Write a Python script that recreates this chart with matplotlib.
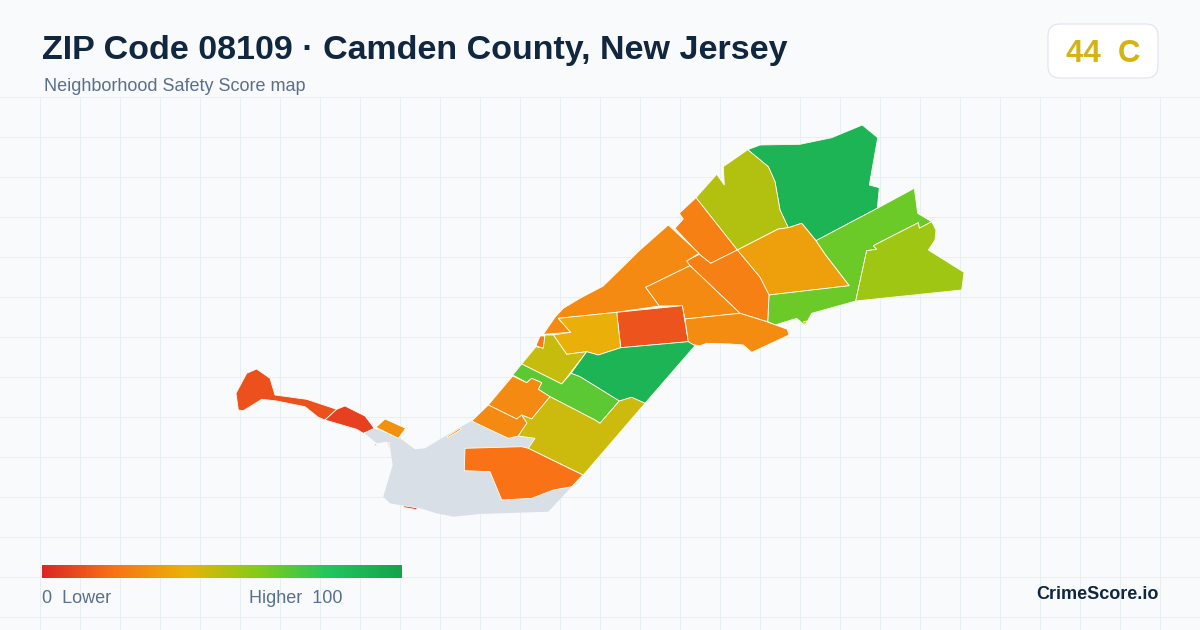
import matplotlib
matplotlib.use("Agg")
import matplotlib.pyplot as plt
import numpy as np
from matplotlib.colors import LinearSegmentedColormap, Normalize
from matplotlib.patches import FancyBboxPatch, Polygon

# neighborhood outlines (map units = image pixels)
gray_area = [(471.7, 421), (508.3, 438.3), (518.3, 436), (535, 438.3), (528.3, 448.3), (582.7, 475), (571.7, 486.7),
             (548.3, 511.7), (480, 514), (453.3, 516.7), (436.7, 513.3), (420, 508.3), (403.3, 505.7), (390, 503.3),
             (383.3, 496.7), (392.7, 465), (390, 446.7), (386.7, 441.7), (376.7, 443.3), (366.7, 435), (363.3, 431.7),
             (374, 428.3), (400, 438.3), (415, 449.3), (425, 448.3), (460, 427.3)]

north_green = [(747.7, 149.7), (760, 145), (800, 144.3), (831.7, 137.7), (862.3, 125), (877.7, 137.7), (869.3, 185),
               (879.3, 187.7), (877.3, 208.3), (816, 240.7), (801.7, 223.3), (788.3, 227.7), (780, 210), (775, 181.7),
               (768.3, 166.7)]
north_olive = [(747.7, 149.7), (768.3, 166.7), (775, 181.7), (780, 210), (788.3, 227.7), (778.3, 229), (737.3, 250),
               (696, 197.7), (716.7, 174.3), (724.3, 185), (723.3, 166.7)]
amber = [(737.3, 250), (778.3, 229), (788.3, 227.7), (801.7, 223.3), (816, 240.7), (825.7, 255), (849.3, 285.7),
         (769, 295), (760, 277.3)]
east_green = [(816, 240.7), (877.3, 208.3), (914.3, 188.3), (917.7, 213.3), (931.7, 221.7), (919.3, 228.3),
              (918.3, 222.7), (873.3, 245.7), (876.7, 249.3), (866.7, 250.7), (855.7, 301), (811.7, 313.3),
              (805, 325.7), (796.7, 318.3), (775, 325), (767.7, 321.7), (769, 295), (849.3, 285.7), (825.7, 255)]
east_lime = [(919.3, 228.3), (931.7, 221.7), (936, 230), (935, 240), (928.3, 250), (964, 272.3), (961.7, 290),
             (855.7, 301), (866.7, 250.7), (876.7, 249.3), (873.3, 245.7), (918.3, 222.7)]
north_orange = [(696, 197.7), (679.3, 213.3), (683.3, 219), (675, 228.3), (699.3, 254.3), (710.7, 263.3), (737.3, 250)]
mid_orange = [(737.3, 250), (760, 277.3), (769, 295), (767.7, 321.7), (740, 313.3), (689.3, 265), (686, 261),
              (699.3, 254.3), (710.7, 263.3)]
shore_orange = [(668.3, 225), (699, 253.3), (686.7, 261), (690, 265.7), (645.7, 287.3), (659.3, 306), (616.7, 312.3),
                (558.3, 318.3), (570.7, 332.3), (543.3, 334.3), (555, 317.3), (563.3, 308.3), (580, 298.3),
                (603.3, 286), (640, 250)]
center_orange = [(645.7, 287.3), (690, 265.7), (740, 313.3), (685, 319), (682.3, 305.7), (659.3, 306)]
center_red = [(616.7, 312.3), (682.3, 305.7), (688.3, 341.7), (620.7, 347.7)]
east_orange = [(685, 319), (740, 313.3), (766.7, 321.7), (787.3, 329.3), (789, 335), (751.7, 352.3), (743.3, 345),
               (730, 344), (706.7, 343.3), (700, 345.7), (690, 344.3), (688.3, 341.7)]
gold = [(558.3, 318.3), (616.7, 312.3), (620.7, 347.7), (598.3, 355), (586.7, 351.7), (566.7, 354.3), (553.3, 335),
        (570.7, 332.3)]
tiny_orange = [(540, 336), (545, 336), (543.3, 348.3), (536, 345.7)]
west_olive = [(545, 335), (553.3, 335), (566.7, 354.3), (586.7, 351.7), (561.7, 384), (521.7, 364), (536, 346.7),
              (543.3, 348.3)]
center_green = [(586.7, 351.7), (598.3, 355), (620.7, 347.7), (688.3, 341.7), (695, 345.7), (645, 403.3),
                (631.7, 397.3), (619.3, 401), (580, 376.7), (571, 373.3)]
strip_green = [(521.7, 364), (561.7, 384), (571, 373.3), (580, 376.7), (619.3, 401), (600, 423.3), (595, 420),
               (550, 396.7), (538.3, 389.3), (541.7, 382.7), (531.7, 378.3), (526.7, 382.7), (512.7, 375)]
block_orange = [(512.7, 376), (526.7, 382.7), (531.7, 378.3), (541.7, 382.7), (538.3, 389.3), (550, 396.7),
                (531.7, 419), (521.7, 415), (516.7, 419), (488.3, 405)]
south_orange = [(488.3, 405), (516.7, 419), (521.7, 415), (527, 423), (518.3, 436), (508.3, 438.3), (471.7, 421)]
south_olive = [(550, 396.7), (595, 420), (600, 423.3), (619.3, 401), (631.7, 397.3), (645, 403.3), (583.3, 475),
               (528.3, 448.3), (535, 438.3), (518.3, 436), (527, 423), (521.7, 415), (531.7, 419)]
low_orange = [(465, 448.3), (521.7, 446.7), (528.3, 448.3), (582.7, 475), (571.7, 486.7), (553.3, 490),
              (531.7, 498.3), (501.7, 500), (490, 471.7), (464.3, 470.7)]
island_red = [(236, 393.3), (246.7, 373.3), (256.7, 369), (270, 378.3), (275, 395), (306.7, 399.3), (336.7, 409.3),
              (325, 420), (318.3, 417.3), (305, 406.7), (276.7, 401), (261.7, 399.3), (243.3, 410.7), (238.3, 410)]
point_red = [(345, 406), (365, 416), (374.3, 428.3), (363.3, 433.3), (356.7, 429.3), (325, 420), (336.7, 409.3)]
small_orange = [(385, 419), (405.7, 428.3), (398.3, 438.3), (376, 427.3)]
sliver_red = [(403.3, 505.7), (418, 508), (416, 509.5), (404, 507.5)]
sliver_red_2 = [(387.5, 442), (389, 442), (389, 447), (388, 447)]
sliver_red_3 = [(374, 444.5), (376.5, 444), (376.5, 445.5), (374, 445.5)]
sliver_orange = [(447, 436.5), (460, 428), (461, 429.5), (448, 437.5)]
sliver_yellow = [(803.5, 321.7), (806.7, 321), (805, 325.7)]

neighborhoods = [north_green, north_olive, amber, east_green, east_lime, north_orange, mid_orange, shore_orange,
                 center_orange, center_red, east_orange, gold, tiny_orange, west_olive, center_green, strip_green,
                 block_orange, south_orange, south_olive, low_orange, island_red, point_red, small_orange,
                 sliver_red, sliver_red_2, sliver_red_3, sliver_orange, sliver_yellow]
scores = [90, 51, 34, 65, 55, 24, 24, 27, 27, 12, 28, 39, 22, 47, 90, 68, 27, 27, 46, 20, 11, 7, 29, 3, 3, 3, 28, 42]

stop_positions = [0, 0.2, 0.4, 0.6, 0.8, 1]
stop_colors = ["#dc2626", "#f97316", "#eab308", "#84cc16", "#22c55e", "#16a34a"]

title = "ZIP Code 08109 · Camden County, New Jersey"
subtitle = "Neighborhood Safety Score map"
overall_score = "44  C"

plt.rcParams["font.family"] = ["Liberation Sans", "DejaVu Sans"]

cmap = LinearSegmentedColormap.from_list("safety", list(zip(stop_positions, stop_colors)))
norm = Normalize(0, 100)

fig = plt.figure(figsize=(12, 6.3), dpi=100, facecolor="#f8fafc")
ax = fig.add_axes([0, 0, 1, 1])
ax.set_xlim(0, 1200)
ax.set_ylim(630, 0)
ax.axis("off")

# background grid, only below the header
for x in np.arange(40.2, 1200, 40):
    ax.plot([x, x], [97, 630], color="#e8eff3", lw=0.72, zorder=1)
for y in np.arange(96.8, 630, 40):
    ax.plot([0, 1200], [y, y], color="#e8eff3", lw=0.72, zorder=1)

# map
ax.add_patch(Polygon(gray_area, closed=True, fc="#d8dfe7", ec="none", zorder=2))
for outline, score in zip(neighborhoods, scores):
    ax.add_patch(Polygon(outline, closed=True, fc=cmap(norm(score)), ec="#fffdf0", lw=0.6, joinstyle="round", zorder=3))

# header
ax.text(42, 59, title, fontsize=24.5, fontweight="bold", color="#11263f", va="baseline", zorder=5)
ax.text(44, 91, subtitle, fontsize=12.95, color="#5a6f8d", va="baseline", zorder=5)

badge = FancyBboxPatch((1060, 36), 86, 30, boxstyle="round,pad=12,rounding_size=12", fc="white", ec="#dfe5ec",
                       lw=0.8, zorder=4)
ax.add_patch(badge)
ax.text(1103, 62, overall_score, fontsize=22.5, fontweight="bold", color="#d4b312", ha="center", va="baseline", zorder=5)

# legend bar
gradient = np.linspace(0, 1, 360).reshape(1, -1)
ax.imshow(gradient, cmap=cmap, extent=(42, 402, 578, 565), aspect="auto", zorder=4)
ax.set_xlim(0, 1200)
ax.set_ylim(630, 0)
ax.text(42, 603, "0  Lower", fontsize=12.95, color="#5a6f8d", va="baseline", zorder=5)
ax.text(249, 603, "Higher  100", fontsize=12.95, color="#5a6f8d", va="baseline", zorder=5)
ax.text(1158.5, 599, "CrimeScore.io", fontsize=13, fontweight="bold", color="#11263f", ha="right", va="baseline", zorder=5)

fig.savefig("out.png", dpi=100, facecolor=fig.get_facecolor())
